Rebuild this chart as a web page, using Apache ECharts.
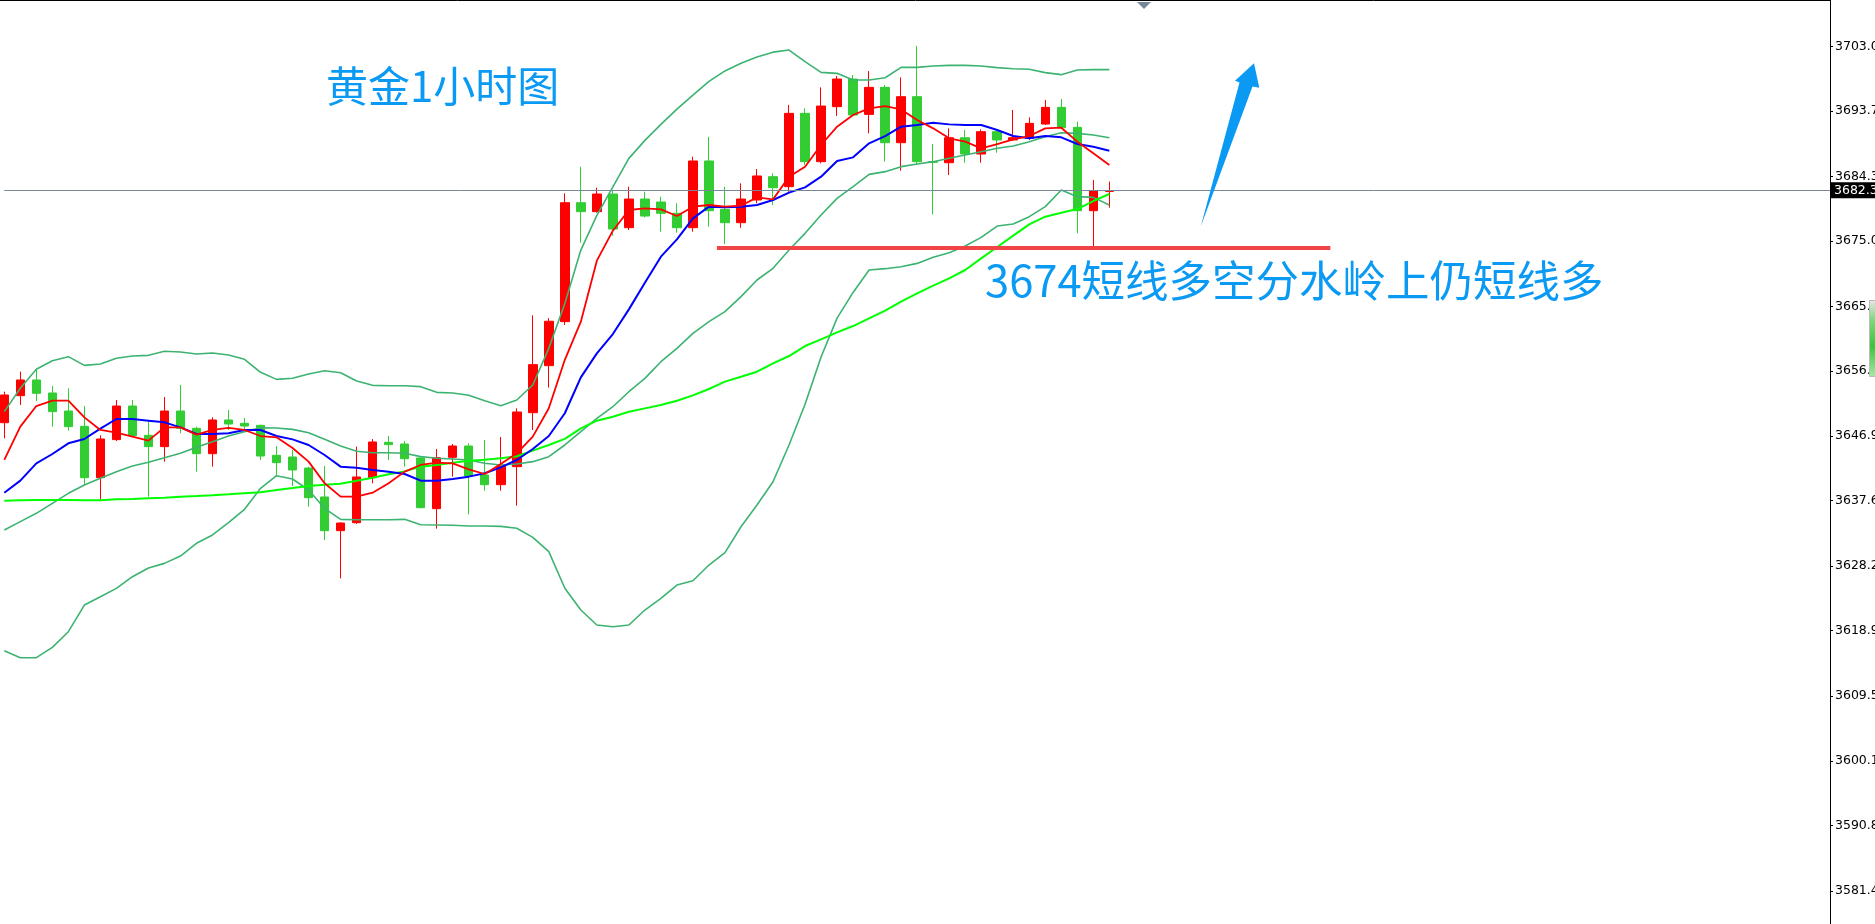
<!DOCTYPE html>
<html><head><meta charset="utf-8">
<script src="https://cdn.jsdelivr.net/npm/echarts@6/dist/echarts.min.js"></script>
<style>html,body{margin:0;padding:0;background:#fff;overflow:hidden}#c{width:1875px;height:924px;}</style>
</head><body><div id="c"></div>
<script>
// ---- data (XAUUSD 1H) ----
const tickLabels = ['3703.0','3693.7','3684.3','3675.0','3665.6','3656.3','3646.9','3637.6','3628.2','3618.9','3609.5','3600.1','3590.8','3581.4'];
const opens = [3648.84,3652.73,3654.99,3653.12,3650.52,3648.32,3640.92,3646.40,3651.24,3647.02,
3645.39,3650.52,3648.03,3644.38,3649.23,3648.75,3648.46,3644.14,3643.90,3642.31,
3638.14,3633.29,3634.44,3640.92,3646.01,3645.77,3643.76,3636.46,3643.85,3645.48,
3641.31,3639.91,3642.51,3650.28,3657.05,3663.39,3680.52,3679.23,3681.77,3676.92,
3681.05,3680.62,3678.99,3676.92,3686.53,3679.56,3677.64,3680.91,3684.27,3682.83,
3693.39,3686.43,3694.35,3698.33,3693.24,3697.13,3689.16,3695.79,3686.43,3686.28,
3689.88,3687.53,3690.75,3689.55,3689.79,3691.85,3694.25,3691.37,3679.37,3682.15];
const closes = [3652.83,3654.99,3653.07,3650.43,3648.27,3640.92,3646.49,3651.24,3646.97,3645.39,
3650.52,3648.03,3644.38,3649.23,3648.65,3648.36,3644.04,3643.08,3642.03,3638.04,
3633.29,3634.39,3641.02,3646.06,3645.68,3643.66,3636.60,3643.80,3645.48,3641.16,
3639.91,3642.60,3650.38,3657.20,3663.45,3680.52,3679.23,3681.77,3676.73,3681.05,
3678.60,3678.99,3676.92,3686.53,3679.37,3677.64,3681.05,3684.37,3682.68,3693.39,
3686.43,3694.44,3698.33,3693.15,3697.13,3689.16,3695.79,3686.43,3686.33,3689.88,
3687.53,3690.75,3689.55,3689.88,3691.95,3694.25,3691.32,3679.37,3682.20,3682.25];
const lows = [3646.59,3651.39,3651.96,3648.27,3647.69,3639.87,3637.80,3646.20,3646.83,3638.19,
3643.23,3647.31,3641.79,3642.51,3647.79,3647.79,3643.47,3641.31,3639.72,3636.75,
3631.95,3626.42,3634.25,3640.11,3643.47,3642.51,3636.50,3633.58,3641.07,3635.64,
3639.05,3639.05,3636.89,3647.79,3653.90,3662.91,3674.76,3679.08,3675.77,3676.59,
3678.41,3676.35,3676.20,3676.35,3677.07,3674.57,3676.92,3680.43,3680.19,3682.10,
3685.95,3686.19,3693.00,3693.05,3690.51,3686.43,3685.13,3685.95,3678.84,3684.51,
3686.28,3686.28,3687.72,3689.45,3689.55,3691.71,3691.23,3676.11,3674.19,3679.80];
const highs = [3653.31,3656.19,3656.43,3654.12,3653.79,3651.24,3647.02,3652.11,3652.11,3648.99,
3652.54,3654.27,3648.27,3649.61,3650.67,3649.52,3648.56,3645.48,3644.91,3642.50,
3642.60,3634.50,3645.39,3646.49,3646.92,3646.20,3643.95,3645.05,3645.77,3645.87,
3646.35,3646.78,3650.91,3664.30,3663.90,3681.87,3685.71,3682.69,3682.35,3682.83,
3682.11,3681.39,3680.43,3687.15,3690.00,3682.83,3683.31,3685.37,3684.75,3694.60,
3694.11,3697.13,3698.76,3698.91,3699.49,3697.47,3698.57,3703.09,3688.97,3691.23,
3690.99,3691.08,3691.08,3693.87,3692.81,3695.31,3695.45,3692.19,3683.79,3683.55];
const maRed = [3643.47,3648.27,3651.24,3652.01,3652.01,3649.61,3647.79,3647.40,3646.83,3646.25,
3648.17,3648.17,3647.12,3647.79,3648.08,3647.79,3646.92,3646.73,3645.20,3643.23,
3640.11,3638.19,3638.19,3638.76,3640.11,3641.79,3642.75,3643.08,3642.99,3642.12,
3641.45,3642.89,3644.43,3646.83,3650.91,3657.90,3663.39,3672.17,3676.49,3679.47,
3679.71,3679.56,3678.60,3679.95,3680.19,3679.95,3680.09,3681.29,3681.00,3684.27,
3685.71,3688.83,3691.47,3693.15,3694.11,3694.44,3693.96,3692.43,3691.23,3689.79,
3689.31,3688.35,3688.97,3689.64,3690.12,3691.23,3691.32,3689.31,3687.63,3685.95];
const maBlue = [3638.76,3640.49,3642.99,3644.33,3645.87,3646.49,3647.98,3649.37,3649.37,3649.13,
3648.89,3648.17,3647.21,3647.21,3647.31,3647.79,3647.79,3646.92,3646.44,3645.63,
3644.19,3642.51,3642.36,3642.03,3641.79,3641.45,3640.49,3640.49,3640.73,3641.07,
3641.55,3642.41,3643.47,3645.05,3646.92,3650.20,3655.37,3658.82,3661.61,3665.16,
3669.00,3672.75,3675.24,3678.27,3679.95,3679.85,3679.95,3680.19,3680.91,3681.97,
3682.73,3684.27,3686.52,3687.05,3689.07,3690.12,3691.47,3691.71,3692.04,3691.80,
3691.71,3691.71,3690.99,3690.12,3689.79,3690.12,3689.93,3688.97,3688.59,3688.01];
const maLime = [3637.61,3637.66,3637.71,3637.71,3637.71,3637.66,3637.66,3637.80,3637.85,3637.95,
3638.04,3638.19,3638.28,3638.38,3638.52,3638.67,3638.81,3639.15,3639.43,3639.72,
3639.91,3640.06,3640.49,3640.92,3641.40,3641.83,3642.51,3642.75,3643.08,3643.37,
3643.51,3643.71,3644.00,3644.81,3645.63,3646.50,3648.02,3649.13,3649.70,3650.42,
3650.90,3651.38,3652.01,3652.78,3653.69,3654.75,3655.46,3656.18,3657.39,3658.44,
3659.88,3660.84,3661.85,3662.76,3663.86,3664.97,3666.27,3667.46,3668.57,3669.62,
3670.83,3672.51,3674.14,3675.77,3677.40,3678.51,3679.08,3679.61,3680.76,3681.77];
const bbUpper = [3650.43,3653.79,3656.53,3657.77,3658.35,3657.10,3657.29,3658.11,3658.45,3658.54,
3659.12,3659.02,3658.73,3658.88,3658.59,3657.97,3656.09,3655.08,3655.23,3655.85,
3656.33,3656.04,3654.84,3654.22,3654.17,3654.17,3654.03,3653.21,3653.12,3652.78,
3652.01,3651.29,3652.11,3654.27,3659.55,3666.00,3673.70,3678.70,3682.80,3686.90,
3689.50,3691.80,3694.00,3696.00,3698.00,3699.50,3700.60,3701.50,3702.20,3702.50,
3700.83,3699.29,3699.15,3698.19,3698.19,3698.52,3700.01,3700.01,3700.21,3700.30,
3700.30,3700.21,3699.97,3699.82,3699.73,3699.25,3698.96,3699.63,3699.68,3699.68];
const bbMid = [3633.39,3634.59,3635.79,3637.23,3638.67,3639.87,3640.83,3641.79,3642.60,3643.13,
3643.80,3644.43,3645.29,3646.11,3646.92,3647.55,3648.12,3648.08,3647.88,3647.40,
3646.44,3645.48,3644.72,3644.52,3644.52,3644.43,3643.95,3643.71,3643.61,3643.47,
3642.99,3642.75,3642.89,3643.23,3643.95,3645.63,3647.54,3649.46,3651.14,3653.30,
3655.22,3657.62,3659.55,3661.71,3663.39,3664.83,3666.99,3669.39,3671.07,3673.71,
3676.11,3678.75,3681.15,3682.83,3684.60,3684.99,3685.71,3686.09,3686.43,3686.91,
3687.39,3687.87,3688.35,3688.68,3689.31,3690.03,3690.60,3690.51,3690.27,3689.88];
const bbLower = [3616.01,3615.00,3615.00,3616.49,3618.74,3622.58,3623.78,3624.98,3626.66,3627.91,
3628.58,3629.64,3631.47,3632.67,3634.44,3636.36,3639.39,3641.21,3640.73,3639.15,
3636.51,3634.92,3634.87,3634.87,3634.87,3634.92,3634.15,3634.11,3634.06,3633.96,
3633.96,3633.91,3633.63,3632.33,3630.27,3625.00,3621.86,3619.70,3619.46,3619.70,
3621.86,3623.54,3625.46,3626.08,3628.34,3630.12,3633.86,3636.98,3640.34,3645.62,
3651.50,3658.30,3663.90,3667.60,3670.83,3671.02,3671.30,3671.78,3672.65,3673.32,
3674.28,3675.53,3677.16,3677.45,3678.51,3679.95,3682.35,3681.39,3681.29,3680.19];
const currentPrice = 3682.3;
const supportLevel = 3674;
const supportFromBar = 44.5, supportToBar = 82.8;
const titleText = '黄金1小时图';
const noteText = '3674短线多空分水岭上仍短线多';

// ---- layout ----
const SLOTS = 115;
const categories = Array.from({length: SLOTS}, (_, i) => String(i + 1));
const tickValues = tickLabels.map(Number);
const candles = opens.map((o, i) => [o, closes[i], lows[i], highs[i]]);
const FONT = 'DejaVu Sans';
const BLUE = '#0A9AF4';

function lineSeries(name, data, color, width) {
  return {name, type: 'line', data, symbol: 'none', showSymbol: false, smooth: false,
    lineStyle: {color, width}, itemStyle: {color}, silent: true, z: 3, clip: true};
}

const chart = echarts.init(document.getElementById('c'), null, {renderer: 'canvas'});
chart.setOption({
  animation: false,
  backgroundColor: '#fff',
  grid: {left: 4.3, right: 45, top: 0, bottom: 0, containLabel: false, outerBoundsMode: 'none'},
  xAxis: [
    {type: 'category', data: categories, boundaryGap: false, show: false},
    {type: 'value', min: 0, max: SLOTS - 1, show: false}
  ],
  yAxis: {
    type: 'value', position: 'right', min: 3576.647, max: 3709.711,
    axisLine: {show: true, onZero: false, lineStyle: {color: '#000', width: 1}},
    axisTick: {show: true, customValues: tickValues, length: 3, lineStyle: {color: '#000'}},
    axisLabel: {customValues: tickValues, formatter: v => Number(v).toFixed(1), color: '#000',
      fontFamily: FONT, fontSize: 12.5, margin: 5},
    splitLine: {show: false}
  },
  series: [
    {
      type: 'candlestick', data: candles, barWidth: 9, z: 2,
      itemStyle: {color: '#FF0000', color0: '#32CD32', borderColor: '#FF0000', borderColor0: '#32CD32', borderWidth: 1},
      markLine: {
        silent: true, symbol: ['none', 'none'], animation: false,
        lineStyle: {color: '#778899', width: 1, type: 'solid'},
        label: {show: true, position: 'end', distance: 1, formatter: () => currentPrice.toFixed(1),
          color: '#fff', backgroundColor: '#000', fontFamily: FONT, fontSize: 12.5, padding: [2, 3, 1, 3]},
        data: [{yAxis: currentPrice}]
      }
    },
    lineSeries('BB upper', bbUpper, '#3CB371', 1.6),
    lineSeries('BB mid', bbMid, '#3CB371', 1.6),
    lineSeries('BB lower', bbLower, '#3CB371', 1.6),
    lineSeries('MA slow', maLime, '#00FF00', 2),
    lineSeries('MA mid', maBlue, '#0000FF', 2),
    lineSeries('MA fast', maRed, '#FF0000', 1.8),
    {type: 'line', xAxisIndex: 1, data: [[supportFromBar, supportLevel], [supportToBar, supportLevel]],
      symbol: 'none', lineStyle: {color: '#F24444', width: 4}, silent: true, z: 4}
  ],
  graphic: [
    {type: 'line', shape: {x1: 0, y1: 0.5, x2: 1831, y2: 0.5}, style: {stroke: '#000', lineWidth: 1}, z: 10},
    {type: 'polygon', shape: {points: [[1137, 2], [1151, 2], [1144, 9]]}, style: {fill: '#778899'}, z: 10},
    {type: 'text', x: 326, y: 86, style: {text: titleText, fill: BLUE, font: '42px "Noto Sans CJK SC"', verticalAlign: 'middle'}, z: 10},
    {type: 'text', x: 985, y: 280, style: {text: noteText, fill: BLUE, font: '43.5px "Noto Sans CJK SC"', verticalAlign: 'middle'}, z: 10},
    {type: 'polygon', shape: {points: [[1200.7, 226.7], [1239.5, 82.5], [1235, 80.7], [1254, 63.3], [1259.3, 87.7], [1252.5, 86.5]]},
      style: {fill: BLUE}, z: 10},
    {type: 'rect', shape: {x: 1869.5, y: 300.5, width: 10, height: 76}, style: {
      fill: new echarts.graphic.LinearGradient(0, 0, 0, 1, [{offset: 0, color: '#e8e8e8'}, {offset: 0.25, color: '#7fd87f'}, {offset: 0.6, color: '#3cc43c'}, {offset: 1, color: '#a8e8a8'}]),
      stroke: '#bbbbbb', lineWidth: 1}, z: 10}
  ]
});
</script></body></html>
